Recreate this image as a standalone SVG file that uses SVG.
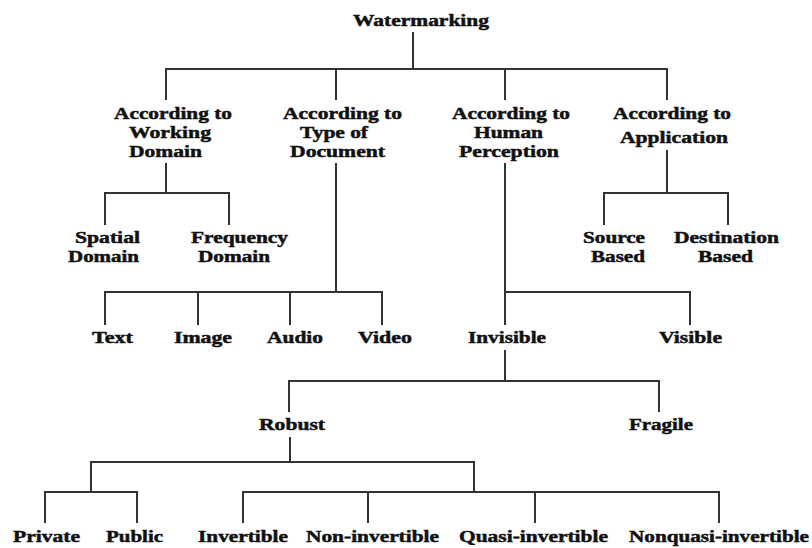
<svg xmlns="http://www.w3.org/2000/svg" width="812" height="548" viewBox="0 0 812 548">
<style>
text{font-family:"Liberation Serif","Times New Roman",Tinos,Times,serif;font-weight:700;font-size:17.5px;fill:#111;stroke:#111;stroke-width:0.5;text-anchor:middle}
.c path{fill:none;stroke:#333;stroke-width:2}
</style>
<rect width="812" height="548" fill="#fff"/>
<g class="c" id="connectors">
<path d="M413 32V69M166 100V69H667V100M336 69V100M505 69V100"/>
<path d="M166 163V193M105 225V193H229V225"/>
<path d="M667 150V193M604 225V193H728V225"/>
<path d="M336 163V292M105 325V292H382V325M198 292V325M290 292V325"/>
<path d="M505 163V325M505 292H690V325"/>
<path d="M505 350V381M289 412V381H659V412"/>
<path d="M290 437V462M91 492V462H474V492"/>
<path d="M45 523V492H137V523"/>
<path d="M243 523V492H719V523M368 492V523M535 492V523"/>
</g>
<g id="n-watermarking"><text x="421" y="25.5" textLength="136" lengthAdjust="spacingAndGlyphs">Watermarking</text></g>
<g id="n-working"><text x="173" y="118.5" textLength="118" lengthAdjust="spacingAndGlyphs">According to</text><text x="170" y="138" textLength="82" lengthAdjust="spacingAndGlyphs">Working</text><text x="165.5" y="157" textLength="73" lengthAdjust="spacingAndGlyphs">Domain</text></g>
<g id="n-type"><text x="342.5" y="118.5" textLength="119" lengthAdjust="spacingAndGlyphs">According to</text><text x="334" y="138" textLength="68" lengthAdjust="spacingAndGlyphs">Type of</text><text x="337.5" y="157" textLength="95" lengthAdjust="spacingAndGlyphs">Document</text></g>
<g id="n-human"><text x="511" y="118.5" textLength="118" lengthAdjust="spacingAndGlyphs">According to</text><text x="508.5" y="138" textLength="69" lengthAdjust="spacingAndGlyphs">Human</text><text x="509" y="157" textLength="100" lengthAdjust="spacingAndGlyphs">Perception</text></g>
<g id="n-application"><text x="672" y="118.5" textLength="118" lengthAdjust="spacingAndGlyphs">According to</text><text x="674" y="143" textLength="108" lengthAdjust="spacingAndGlyphs">Application</text></g>
<g id="n-spatial"><text x="107.5" y="243" textLength="65" lengthAdjust="spacingAndGlyphs">Spatial</text><text x="103.5" y="262" textLength="71" lengthAdjust="spacingAndGlyphs">Domain</text></g>
<g id="n-frequency"><text x="239.5" y="243" textLength="97" lengthAdjust="spacingAndGlyphs">Frequency</text><text x="234" y="262" textLength="72" lengthAdjust="spacingAndGlyphs">Domain</text></g>
<g id="n-source"><text x="614" y="243" textLength="62" lengthAdjust="spacingAndGlyphs">Source</text><text x="618" y="262" textLength="54" lengthAdjust="spacingAndGlyphs">Based</text></g>
<g id="n-destination"><text x="726.5" y="243" textLength="105" lengthAdjust="spacingAndGlyphs">Destination</text><text x="725.5" y="262" textLength="55" lengthAdjust="spacingAndGlyphs">Based</text></g>
<g id="n-text"><text x="112.5" y="343" textLength="41" lengthAdjust="spacingAndGlyphs">Text</text></g>
<g id="n-image"><text x="203" y="343" textLength="58" lengthAdjust="spacingAndGlyphs">Image</text></g>
<g id="n-audio"><text x="295" y="343" textLength="56" lengthAdjust="spacingAndGlyphs">Audio</text></g>
<g id="n-video"><text x="385" y="343" textLength="54" lengthAdjust="spacingAndGlyphs">Video</text></g>
<g id="n-invisible"><text x="507" y="343" textLength="78" lengthAdjust="spacingAndGlyphs">Invisible</text></g>
<g id="n-visible"><text x="690.5" y="343" textLength="63" lengthAdjust="spacingAndGlyphs">Visible</text></g>
<g id="n-robust"><text x="292" y="430" textLength="66" lengthAdjust="spacingAndGlyphs">Robust</text></g>
<g id="n-fragile"><text x="661" y="430" textLength="64" lengthAdjust="spacingAndGlyphs">Fragile</text></g>
<g id="n-private"><text x="46.5" y="541.5" textLength="67" lengthAdjust="spacingAndGlyphs">Private</text></g>
<g id="n-public"><text x="134.5" y="541.5" textLength="57" lengthAdjust="spacingAndGlyphs">Public</text></g>
<g id="n-invertible"><text x="243" y="541.5" textLength="90" lengthAdjust="spacingAndGlyphs">Invertible</text></g>
<g id="n-noninvertible"><text x="372.5" y="541.5" textLength="133" lengthAdjust="spacingAndGlyphs">Non-invertible</text></g>
<g id="n-quasi"><text x="533.5" y="541.5" textLength="149" lengthAdjust="spacingAndGlyphs">Quasi-invertible</text></g>
<g id="n-nonquasi"><text x="719" y="541.5" textLength="180" lengthAdjust="spacingAndGlyphs">Nonquasi-invertible</text></g>
</svg>
